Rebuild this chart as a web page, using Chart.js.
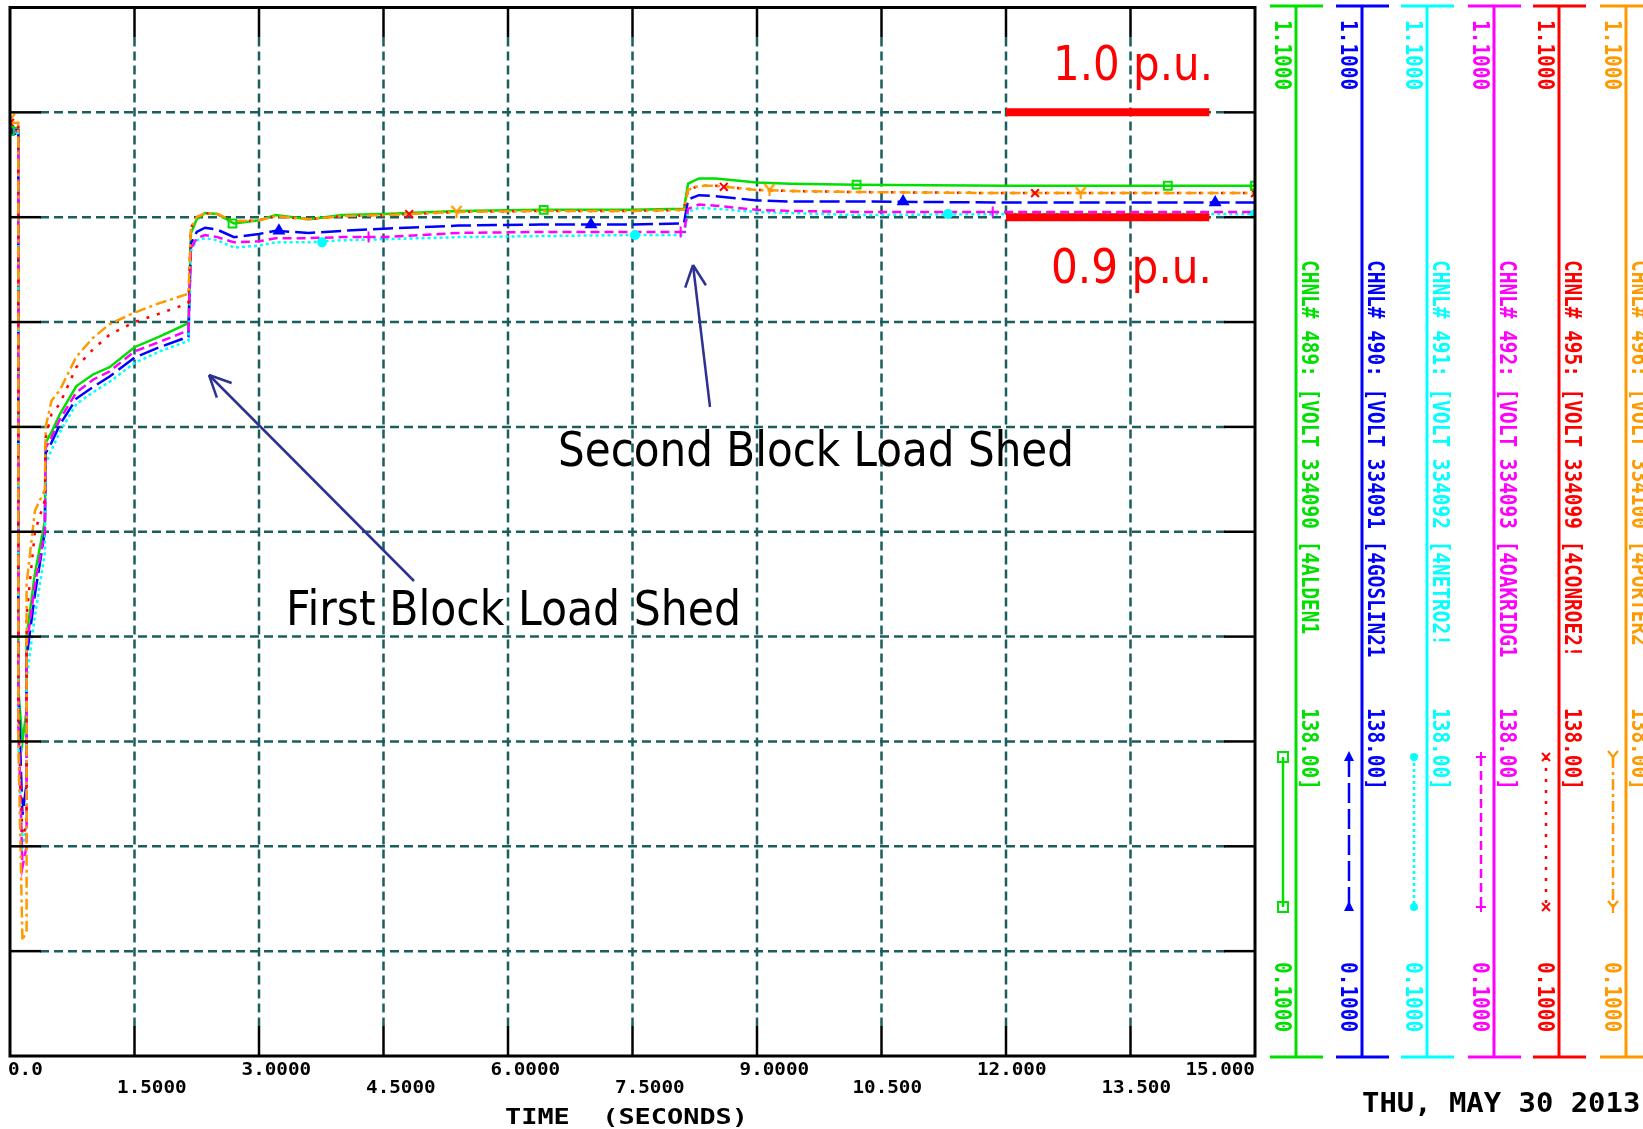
<!DOCTYPE html>
<html>
<head>
<meta charset="utf-8">
<script src="https://cdn.jsdelivr.net/npm/chart.js@4.4.0/dist/chart.umd.min.js"></script>
<style>
  html, body { margin: 0; padding: 0; background: #fff; }
  canvas { display: block; }
</style>
</head>
<body>
<canvas id="plot" width="1643" height="1129"></canvas>
<script>
// time axis (seconds) shared by all channels
const times = [0, 0.1, 0.1, 0.15, 0.2, 0.2, 0.3, 0.42, 0.43, 0.5, 0.6, 0.8, 1.0, 1.2, 1.5, 1.8, 2.15, 2.18, 2.25, 2.35,
  2.5, 2.7, 3.0, 3.2, 3.6, 4.0, 4.5, 5.4, 6.4, 7.5, 8.12, 8.17, 8.3, 8.5, 9.0, 9.4, 10.2, 12.0, 13.5, 15.0];

// bus voltages (p.u.)
const v489 = [0.985, 0.985, 0.45, 0.40, 0.43, 0.50, 0.56, 0.61, 0.685, 0.695, 0.712, 0.739, 0.750, 0.757, 0.776, 0.786, 0.799, 0.885, 0.898, 0.904,
  0.903, 0.894, 0.897, 0.902, 0.898, 0.902, 0.903, 0.906, 0.907, 0.907, 0.908, 0.932, 0.937, 0.937, 0.933, 0.932, 0.931, 0.930, 0.930, 0.930];
const v490 = [0.983, 0.983, 0.45, 0.33, 0.36, 0.48, 0.54, 0.60, 0.675, 0.685, 0.702, 0.727, 0.738, 0.748, 0.766, 0.776, 0.786, 0.875, 0.886, 0.890,
  0.888, 0.881, 0.884, 0.887, 0.885, 0.887, 0.889, 0.892, 0.893, 0.893, 0.894, 0.917, 0.921, 0.920, 0.916, 0.915, 0.915, 0.914, 0.914, 0.914];
const v491 = [0.980, 0.980, 0.40, 0.30, 0.32, 0.46, 0.52, 0.58, 0.665, 0.678, 0.695, 0.722, 0.733, 0.743, 0.761, 0.772, 0.782, 0.868, 0.878, 0.880,
  0.878, 0.871, 0.873, 0.876, 0.876, 0.878, 0.879, 0.881, 0.882, 0.883, 0.883, 0.905, 0.909, 0.908, 0.905, 0.904, 0.902, 0.903, 0.903, 0.903];
const v492 = [0.982, 0.982, 0.42, 0.28, 0.30, 0.49, 0.55, 0.60, 0.680, 0.690, 0.707, 0.733, 0.745, 0.753, 0.772, 0.781, 0.792, 0.870, 0.880, 0.883,
  0.881, 0.876, 0.877, 0.880, 0.880, 0.881, 0.881, 0.885, 0.886, 0.886, 0.886, 0.908, 0.912, 0.911, 0.907, 0.906, 0.905, 0.905, 0.905, 0.905];
const v495 = [0.990, 0.990, 0.42, 0.31, 0.32, 0.52, 0.60, 0.63, 0.690, 0.712, 0.722, 0.757, 0.774, 0.788, 0.800, 0.808, 0.818, 0.890, 0.900, 0.904,
  0.903, 0.896, 0.897, 0.901, 0.898, 0.901, 0.902, 0.905, 0.906, 0.906, 0.907, 0.926, 0.930, 0.930, 0.926, 0.925, 0.924, 0.923, 0.923, 0.923];
const v496 = [0.990, 0.990, 0.40, 0.21, 0.22, 0.55, 0.62, 0.64, 0.700, 0.725, 0.735, 0.767, 0.785, 0.798, 0.809, 0.818, 0.827, 0.890, 0.900, 0.904,
  0.903, 0.896, 0.897, 0.901, 0.898, 0.901, 0.902, 0.905, 0.906, 0.906, 0.907, 0.926, 0.930, 0.930, 0.926, 0.925, 0.924, 0.923, 0.923, 0.923];

// symbol positions along each curve [t, v]
const marks489 = [[0, 0.982], [2.68, 0.894], [6.43, 0.907], [10.2, 0.931], [13.95, 0.930], [15, 0.930]];
const marks490 = [[0, 0.982], [3.24, 0.887], [7.0, 0.893], [10.76, 0.915], [14.52, 0.914]];
const marks491 = [[0, 0.982], [3.76, 0.876], [7.53, 0.883], [11.3, 0.903], [15, 0.903]];
const marks492 = [[0, 0.984], [4.32, 0.881], [8.08, 0.886], [11.84, 0.905], [15, 0.905]];
const marks495 = [[0, 0.990], [4.81, 0.903], [8.6, 0.929], [12.35, 0.923], [15, 0.923]];
const marks496 = [[0, 0.993], [5.38, 0.905], [9.15, 0.926], [12.9, 0.923], [15, 0.923]];

const channelText = [
  'CHNL# 489: [VOLT 334090 [4ALDEN1',
  'CHNL# 490: [VOLT 334091 [4GOSLIN21',
  'CHNL# 491: [VOLT 334092 [4NETRO2!',
  'CHNL# 492: [VOLT 334093 [4OAKRIDG1',
  'CHNL# 495: [VOLT 334099 [4CONROE2!',
  'CHNL# 496: [VOLT 334100 [4PORTER2'
];

const xTickValues = [0, 1.5, 3, 4.5, 6, 7.5, 9, 10.5, 12, 13.5, 15];
const xTickLabels = ['0.0', '1.5000', '3.0000', '4.5000', '6.0000', '7.5000', '9.0000', '10.500', '12.000', '13.500', '15.000'];
const yTickValues = [0.1, 0.2, 0.3, 0.4, 0.5, 0.6, 0.7, 0.8, 0.9, 1.0, 1.1];
const puLevels = [1.0, 0.9];

// styles
const colors = ['#00e000', '#0000ff', '#00ffff', '#ff00ff', '#ff0000', '#ff9900'];
const dashes = [[], [20, 6], [3, 3], [9, 5], [3, 8], [11, 4, 3, 4]];
const symbols = ['rect', 'triangle', 'circle', 'cross', 'crossRot', 'yMark'];
const gridColor = '#1b5e5e';
const arrowColor = '#2e3192';

const seriesValues = [v489, v490, v491, v492, v495, v496];
const seriesMarks = [marks489, marks490, marks491, marks492, marks495, marks496];

// Y shaped symbol (not a chart.js built-in)
function yIcon(color) {
  const c = document.createElement('canvas');
  c.width = 14; c.height = 14;
  const g = c.getContext('2d');
  g.strokeStyle = color; g.lineWidth = 2.2;
  g.beginPath();
  g.moveTo(2, 1); g.lineTo(7, 7); g.lineTo(12, 1);
  g.moveTo(7, 7); g.lineTo(7, 13);
  g.stroke();
  return c;
}
const yImg = yIcon(colors[5]);

const datasets = [];
seriesValues.forEach((vals, i) => {
  datasets.push({
    data: times.map((t, k) => ({ x: t, y: vals[k] })),
    borderColor: colors[i],
    borderWidth: 2.5,
    borderDash: dashes[i],
    pointRadius: 0,
    fill: false,
    tension: 0,
    order: 10 - i
  });
});
seriesMarks.forEach((m, i) => {
  const filled = (symbols[i] === 'triangle' || symbols[i] === 'circle');
  datasets.push({
    data: m.map(p => ({ x: p[0], y: p[1] })),
    showLine: false,
    pointStyle: symbols[i] === 'yMark' ? yImg : symbols[i],
    pointRadius: symbols[i] === 'circle' ? 4 : 5.5,
    pointBorderColor: colors[i],
    pointBackgroundColor: filled ? colors[i] : 'rgba(0,0,0,0)',
    pointBorderWidth: 2,
    order: 0
  });
});

// mono text with target advance / cap height
function monoText(ctx, str, x, y, adv, cap, color, rotate) {
  const size = adv / 0.602;
  const sy = cap / (0.729 * size);
  ctx.save();
  ctx.translate(x, y);
  if (rotate) ctx.rotate(Math.PI / 2);
  ctx.scale(1, sy);
  ctx.font = 'bold ' + size + 'px "DejaVu Sans Mono"';
  ctx.fillStyle = color;
  ctx.textAlign = 'left';
  ctx.textBaseline = rotate ? 'middle' : 'alphabetic';
  ctx.fillText(str, 0, 0);
  ctx.restore();
}

function seg(ctx, x1, y1, x2, y2) {
  ctx.beginPath(); ctx.moveTo(x1, y1); ctx.lineTo(x2, y2); ctx.stroke();
}

function drawSymbol(ctx, kind, x, y, color) {
  ctx.save();
  ctx.setLineDash([]);
  ctx.strokeStyle = color; ctx.fillStyle = color; ctx.lineWidth = 2;
  const r = 5;
  if (kind === 'rect') { ctx.strokeRect(x - r, y - r, 2 * r, 2 * r); }
  else if (kind === 'triangle') {
    ctx.beginPath(); ctx.moveTo(x, y - r - 1); ctx.lineTo(x + r, y + r - 1); ctx.lineTo(x - r, y + r - 1); ctx.closePath(); ctx.fill();
  } else if (kind === 'circle') { ctx.beginPath(); ctx.arc(x, y, 4, 0, Math.PI * 2); ctx.fill(); }
  else if (kind === 'cross') { seg(ctx, x - r, y, x + r, y); seg(ctx, x, y - r, x, y + r); }
  else if (kind === 'crossRot') { seg(ctx, x - 4, y - 4, x + 4, y + 4); seg(ctx, x + 4, y - 4, x - 4, y + 4); }
  else { ctx.drawImage(yImg, x - 7, y - 7); }
  ctx.restore();
}

function arrow(ctx, x1, y1, x2, y2) {
  const ang = Math.atan2(y2 - y1, x2 - x1);
  const len = 24, spread = 0.45;
  seg(ctx, x1, y1, x2, y2);
  seg(ctx, x2, y2, x2 - len * Math.cos(ang - spread), y2 - len * Math.sin(ang - spread));
  seg(ctx, x2, y2, x2 - len * Math.cos(ang + spread), y2 - len * Math.sin(ang + spread));
}

function fitText(ctx, str, x, baseline, maxW, size, color) {
  ctx.save();
  ctx.font = size + 'px "DejaVu Sans"';
  ctx.fillStyle = color;
  ctx.textAlign = 'left';
  ctx.textBaseline = 'alphabetic';
  ctx.fillText(str, x, baseline, maxW);
  ctx.restore();
}

const decor = {
  id: 'decor',
  beforeDatasetsDraw(chart) {
    const { ctx, chartArea: a, scales: { x, y } } = chart;
    ctx.save();
    ctx.strokeStyle = gridColor;
    ctx.lineWidth = 2.5;
    ctx.setLineDash([9, 5]);
    xTickValues.slice(1, -1).forEach(v => {
      const px = x.getPixelForValue(v);
      seg(ctx, px, a.top + 30, px, a.bottom - 30);
    });
    yTickValues.slice(1, -1).forEach(v => {
      const py = y.getPixelForValue(v);
      seg(ctx, a.left + 30, py, a.right - 30, py);
    });
    ctx.restore();
  },
  afterDatasetsDraw(chart) {
    const { ctx, chartArea: a, scales: { x, y } } = chart;
    ctx.save();
    // frame and ticks
    ctx.strokeStyle = '#000';
    ctx.lineWidth = 3;
    ctx.strokeRect(a.left, a.top, a.right - a.left, a.bottom - a.top);
    ctx.lineWidth = 2.5;
    xTickValues.slice(1, -1).forEach(v => {
      const px = x.getPixelForValue(v);
      seg(ctx, px, a.bottom, px, a.bottom - 30);
      seg(ctx, px, a.top, px, a.top + 30);
    });
    yTickValues.slice(1, -1).forEach(v => {
      const py = y.getPixelForValue(v);
      seg(ctx, a.left, py, a.left + 31, py);
      seg(ctx, a.right, py, a.right - 31, py);
    });

    // x tick labels, decimal point on the tick, two rows
    const adv = 11.6;
    xTickLabels.forEach((lab, i) => {
      const px = x.getPixelForValue(xTickValues[i]);
      let sx = px - (lab.indexOf('.') + 0.5) * adv;
      sx = Math.max(sx, a.left - 2);
      sx = Math.min(sx, a.right - lab.length * adv);
      monoText(ctx, lab, sx, i % 2 === 0 ? 1075 : 1093, adv, 12.8, '#000', false);
    });
    monoText(ctx, 'TIME  (SECONDS)', 505, 1124, 16.2, 15.5, '#000', false);
    monoText(ctx, 'THU, MAY 30 2013', 1362, 1112, 17.4, 19, '#000', false);

    // channel scales on the right
    const legendX = [1296, 1362, 1427, 1494, 1559, 1626];
    legendX.forEach((L, i) => {
      const c = colors[i];
      ctx.strokeStyle = c;
      ctx.lineWidth = 3;
      ctx.setLineDash([]);
      seg(ctx, L, 6, L, 1057);
      seg(ctx, L - 26, 6, L + 27, 6);
      seg(ctx, L - 26, 1057, L + 27, 1057);
      monoText(ctx, '1.1000', L - 15, 20, 11.7, 17, c, true);
      monoText(ctx, channelText[i], L + 12, 260, 11.7, 17, c, true);
      monoText(ctx, '138.00]', L + 12, 708, 11.7, 17, c, true);
      monoText(ctx, '0.1000', L - 15, 962, 11.7, 17, c, true);
      ctx.lineWidth = 2.5;
      ctx.setLineDash(dashes[i]);
      seg(ctx, L - 13, 757, L - 13, 907);
      ctx.setLineDash([]);
      drawSymbol(ctx, symbols[i], L - 13, 757, c);
      drawSymbol(ctx, symbols[i], L - 13, 907, c);
    });

    // p.u. reference bars
    ctx.strokeStyle = '#ff0000';
    ctx.lineWidth = 8;
    puLevels.forEach(v => {
      const py = y.getPixelForValue(v);
      seg(ctx, x.getPixelForValue(12), py, x.getPixelForValue(14.45), py);
    });
    fitText(ctx, '1.0 p.u.', 1053, 80, 160, 48, '#ff0000');
    fitText(ctx, '0.9 p.u.', 1051, 283, 161, 48, '#ff0000');
    fitText(ctx, 'Second Block Load Shed', 558, 466, 516, 48, '#000');
    fitText(ctx, 'First Block Load Shed', 286, 625, 455, 48, '#000');

    ctx.strokeStyle = arrowColor;
    ctx.lineWidth = 2.5;
    arrow(ctx, 414, 581, 209, 375);
    arrow(ctx, 710, 407, 693, 265);
    ctx.restore();
  }
};

new Chart(document.getElementById('plot'), {
  type: 'line',
  data: { datasets: datasets },
  options: {
    responsive: false,
    animation: false,
    devicePixelRatio: 1,
    layout: { padding: { left: 10, top: 6, right: 388, bottom: 73 } },
    plugins: { legend: { display: false }, tooltip: { enabled: false } },
    scales: {
      x: { type: 'linear', min: 0, max: 15, display: false },
      y: { type: 'linear', min: 0.1, max: 1.1, display: false }
    }
  },
  plugins: [decor]
});
</script>
</body>
</html>
